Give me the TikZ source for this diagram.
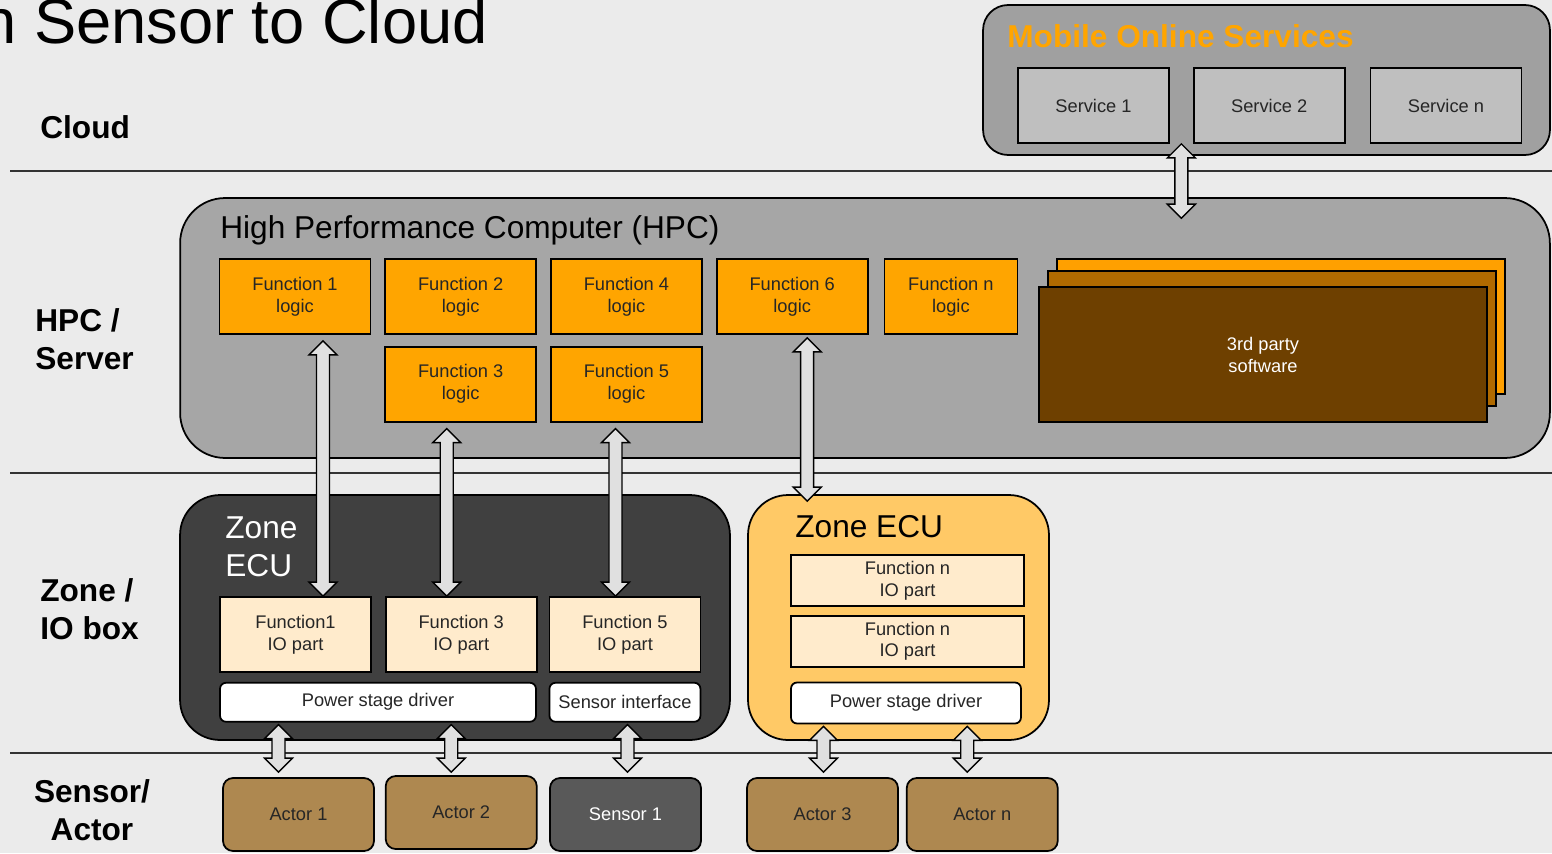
\documentclass[tikz,border=0pt]{standalone}
\usepackage{fontspec}
\setmainfont{Liberation Sans}
\usetikzlibrary{positioning, calc}

\definecolor{bggray}{HTML}{EBEBEB}
\definecolor{mosgray}{HTML}{A0A0A0}
\definecolor{srvgray}{HTML}{BFBFBF}
\definecolor{hpcgray}{HTML}{A6A6A6}
\definecolor{fnorange}{HTML}{FFA500}
\definecolor{tpback}{HTML}{FFA000}
\definecolor{tpmid}{HTML}{B06A00}
\definecolor{tpfront}{HTML}{6E4000}
\definecolor{zonedark}{HTML}{404040}
\definecolor{zonelight}{HTML}{FFC966}
\definecolor{iocream}{HTML}{FFEBCC}
\definecolor{actorbrown}{HTML}{AE8850}
\definecolor{sensorgray}{HTML}{595959}
\definecolor{arrowgray}{HTML}{E0E0E0}

\newcommand{\boxfont}{\fontsize{10.4}{12.5}\selectfont}
\newcommand{\bigfont}{\fontsize{18}{21.5}\selectfont}

\tikzstyle{layer} = [font=\bigfont\bfseries, align=left, inner sep=0pt]
\tikzstyle{sepline} = [draw=black!80, line width=0.9pt]
\tikzstyle{container} = [rectangle, 
draw=black, 
line width=1pt]
\tikzstyle{service} = [rectangle, 
minimum width=3.02cm, 
minimum height=1.5cm, 
draw=black, line width=1pt,
fill=srvgray, text=black!85, font=\boxfont]
\tikzstyle{logic} = [rectangle, 
minimum width=3.02cm, 
minimum height=1.5cm, 
align=center, 
draw=black, line width=1pt,
fill=fnorange, text=black!85, font=\boxfont]
\tikzstyle{thirdparty} = [rectangle, 
minimum width=8.96cm, 
minimum height=2.7cm, 
align=center, 
draw=black, line width=1pt, font=\boxfont]
\tikzstyle{iopart} = [rectangle, 
minimum width=3.02cm, 
minimum height=1.5cm, 
inner sep=2pt, align=center, 
draw=black, line width=1pt,
fill=iocream, text=black!85, font=\boxfont]
\tikzstyle{driver} = [rectangle, rounded corners=0.12cm, 
minimum height=0.78cm, 
draw=black, line width=1pt,
fill=white, text=black!85, font=\boxfont]
\tikzstyle{actor} = [rectangle, rounded corners=0.2cm, 
minimum width=3.02cm, 
minimum height=1.46cm, 
draw=black, line width=1pt,
fill=actorbrown, text=black!85, font=\boxfont]
\tikzstyle{bidirarrow} = [draw=black, line width=0.8pt, fill=arrowgray]

% vertical block arrow with two heads, x taken from the upper end
\newcommand{\bidir}[2]{%
  \path[bidirarrow] let \p1=(#1), \p2=(#2) in
    (\x1,\y1) -- (\x1+0.28cm,\y1-0.28cm) -- (\x1+0.13cm,\y1-0.28cm)
    -- (\x1+0.13cm,\y2+0.28cm) -- (\x1+0.28cm,\y2+0.28cm) -- (\x1,\y2)
    -- (\x1-0.28cm,\y2+0.28cm) -- (\x1-0.13cm,\y2+0.28cm)
    -- (\x1-0.13cm,\y1-0.28cm) -- (\x1-0.28cm,\y1-0.28cm) -- cycle;}

\begin{document}
\begin{tikzpicture}[x=0.02cm, y=-0.02cm, node distance=0.26cm]

\useasboundingbox (0,0) rectangle (1552,853);
\clip (0,0) rectangle (1552,853);
\fill[bggray] (0,0) rectangle (1552,853);

% layer separators
\foreach \ly in {171,473,753}
  \draw[sepline] (10,\ly) -- (1552,\ly);

\node (title) [anchor=base west, inner sep=0pt, font=\fontsize{36}{43}\selectfont] at (-19,43) {n Sensor to Cloud};

\node (cloudlbl) [layer, anchor=base west] at (40,138) {Cloud};
\node (hpclbl) [layer, anchor=base west] at (35,369) {HPC /\\Server};
\node (zonelbl) [layer, anchor=base west] at (40,639) {Zone /\\IO box};
\node (senlbl) [layer, anchor=base, align=center] at (92,840) {Sensor/\\Actor};

% cloud
\node (mos) [container, rounded corners=0.5cm, fill=mosgray, minimum width=11.34cm, minimum height=3cm] at (1266.5,80) {};
\node (mostitle) [anchor=base west, inner sep=0pt, font=\bigfont\bfseries, text=fnorange] at (1007,47) {Mobile Online Services};
\node (srv1) [service] at (1093.5,105.5) {Service 1};
\node (srv2) [service, right=0.46cm of srv1] {Service 2};
\node (srvn) [service, right=0.48cm of srv2] {Service n};

% HPC
\node (hpc) [container, rounded corners=0.9cm, fill=hpcgray, minimum width=27.4cm, minimum height=5.2cm] at (865,328) {};
\node (hpctitle) [anchor=base west, inner sep=0pt, font=\bigfont] at (220,238) {High Performance Computer (HPC)};
\node (f1l) [logic] at (295,296.5) {Function 1\\logic};
\node (f2l) [logic, right=of f1l] {Function 2\\logic};
\node (f4l) [logic, right=of f2l] {Function 4\\logic};
\node (f6l) [logic, right=of f4l] {Function 6\\logic};
\node (fnl) [logic, right=0.3cm of f6l, minimum width=2.66cm] {Function n\\logic};
\node (f3l) [logic, below=0.22cm of f2l] {Function 3\\logic};
\node (f5l) [logic, below=0.22cm of f4l] {Function 5\\logic};

\node (tp3) [thirdparty, fill=tpback] at (1281,326.5) {};
\node (tp2) [thirdparty, fill=tpmid] at (1272,338.5) {};
\node (tp1) [thirdparty, fill=tpfront, text=white] at (1263,354.5) {3rd party\\software};

% zone ECUs
\node (zone1) [container, rounded corners=0.8cm, fill=zonedark, minimum width=11cm, minimum height=4.9cm] at (455,617.5) {};
\node (zone1title) [anchor=base west, inner sep=0pt, font=\bigfont, text=white, align=left] at (225,576) {Zone\\ECU};
\node (f1io) [iopart] at (295.5,634.5) {Function1\\IO part};
\node (f3io) [iopart, right=of f1io] {Function 3\\IO part};
\node (f5io) [iopart, right=0.22cm of f3io] {Function 5\\IO part};
\node (psd1) [driver, minimum width=6.32cm, below=0.18cm of f1io.south west, anchor=north west] {Power stage driver};
\node (sif) [driver, minimum width=3.02cm, below=0.18cm of f5io] {Sensor interface};

\node (zone2) [container, rounded corners=0.8cm, fill=zonelight, minimum width=6.02cm, minimum height=4.9cm] at (898.5,617.5) {};
\node (zone2title) [anchor=base west, inner sep=0pt, font=\bigfont] at (795,537) {Zone ECU};
\node (fnio1) [iopart, minimum width=4.66cm, minimum height=1.02cm] at (907.5,580.5) {Function n\\IO part};
\node (fnio2) [iopart, minimum width=4.66cm, minimum height=1.02cm, below=0.16cm of fnio1] {Function n\\IO part};
\node (psd2) [driver, minimum width=4.6cm, minimum height=0.82cm, below=0.28cm of fnio2.south west, anchor=north west] {Power stage driver};

% sensors and actors
\node (act1) [actor] at (298.5,814.5) {Actor 1};
\node (act2) [actor, right=0.2cm of act1, yshift=0.04cm] {Actor 2};
\node (sen1) [actor, fill=sensorgray, text=white] at (625.5,814.5) {Sensor 1};
\node (act3) [actor] at (822.5,814.5) {Actor 3};
\node (actn) [actor, right=0.14cm of act3] {Actor n};

% links
\bidir{$(srv1.south east)!0.5!(srv2.south west)$}{$(hpc.north)+(0,21)$}
\bidir{$(f1l.south)+(28,6)$}{f1io.north}
\bidir{$(f3l.south)+(-14,6)$}{f3io.north}
\bidir{$(f5l.south)+(-11,6)$}{f5io.north}
\bidir{$(f6l.south)+(15,3)$}{$(zone2.north)+(0,7)$}
\bidir{$(psd1.south -| act1.north)+(-20,2)$}{$(act1.north)+(0,-5)$}
\bidir{$(psd1.south -| act2.north)+(-10,2)$}{$(act2.north)+(0,-3)$}
\bidir{$(sif.south -| sen1.north)+(2,2)$}{$(sen1.north)+(0,-5)$}
\bidir{$(psd2.south -| act3.north)+(1,2)$}{$(act3.north)+(0,-5)$}
\bidir{$(psd2.south -| actn.north)+(-15,2)$}{$(actn.north)+(0,-5)$}

\end{tikzpicture}
\end{document}
